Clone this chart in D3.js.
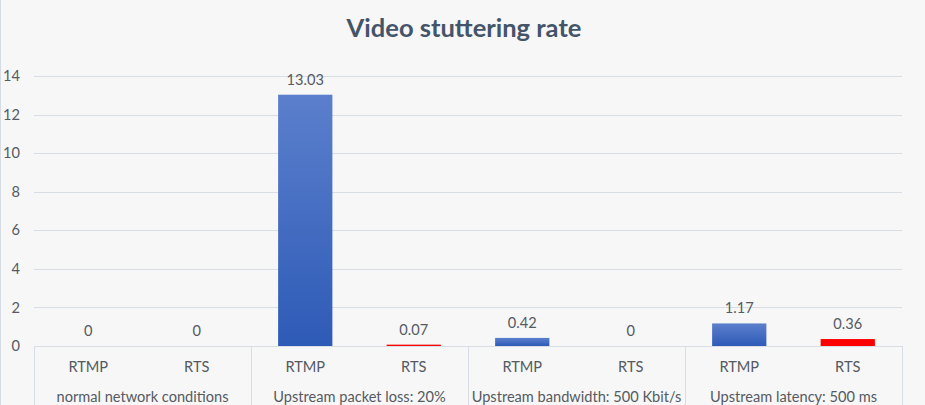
<!DOCTYPE html>
<html><head><meta charset="utf-8">
<script src="https://cdn.jsdelivr.net/npm/d3@7"></script>
<style>
html,body{margin:0;padding:0;background:#f7f7f7;}
svg{display:block;}
</style></head>
<body>
<svg id="chart" width="925" height="405"></svg>
<script>
const title = "Video stuttering rate";
const groups = ["normal network conditions", "Upstream packet loss: 20%", "Upstream bandwidth: 500 Kbit/s", "Upstream latency: 500 ms"];
const protocols = ["RTMP", "RTS"];
const rtmpValues = [0, 13.03, 0.42, 1.17];
const rtsValues = [0, 0.07, 0, 0.36];
const rtmpLabels = ["0", "13.03", "0.42", "1.17"];
const rtsLabels = ["0", "0.07", "0", "0.36"];
const yTicks = [0, 2, 4, 6, 8, 10, 12, 14];

(function () {
const rows = [];
groups.forEach((g, i) => {
  rows.push({group: g, proto: "RTMP", value: rtmpValues[i], label: rtmpLabels[i]});
  rows.push({group: g, proto: "RTS", value: rtsValues[i], label: rtsLabels[i]});
});

const svg = d3.select("#chart");
const W = 925, H = 405;
const mLeft = 34, mRight = 902, mTop = 76, mBottom = 346;
const font = "Lato, 'Open Sans', sans-serif";
const textColor = "#555a63";
const fs = 14.6;

svg.append("rect").attr("x", 0.5).attr("y", -1).attr("width", W + 2).attr("height", H + 2)
  .attr("fill", "#f7f7f7").attr("stroke", "#d6dbe4");

const defs = svg.append("defs");
const grad = defs.append("linearGradient").attr("id", "blueGrad").attr("x1", 0).attr("y1", 0).attr("x2", 0).attr("y2", 1);
grad.append("stop").attr("offset", "0%").attr("stop-color", "#5b7fcc");
grad.append("stop").attr("offset", "100%").attr("stop-color", "#2e5bb7");

const x0 = d3.scaleBand().domain(groups).range([mLeft, mRight]).paddingInner(0).paddingOuter(0);
const x1 = d3.scaleBand().domain(protocols).range([0, x0.bandwidth()]).paddingInner(0.5).paddingOuter(0.25);
const xs = d3.scaleBand().domain(protocols).range([0, x0.bandwidth()]);
const y = d3.scaleLinear().domain([0, 14]).range([mBottom, mTop]);

// gridlines
svg.append("g").selectAll("line").data(yTicks.filter(t => t > 0)).join("line")
  .attr("x1", mLeft).attr("x2", mRight)
  .attr("y1", d => Math.round(y(d)) + 0.5).attr("y2", d => Math.round(y(d)) + 0.5)
  .attr("stroke", "#d9dde5").attr("stroke-width", 1);

// y axis labels
const yAxis = d3.axisLeft(y).tickValues(yTicks).tickSize(0).tickPadding(0);
const yg = svg.append("g").attr("transform", `translate(20,0)`).call(yAxis);
yg.select(".domain").remove();
yg.selectAll("text").attr("font-family", font).attr("font-size", fs).attr("fill", textColor);

// bars
svg.append("g").selectAll("rect").data(rows).join("rect")
  .attr("x", d => x0(d.group) + x1(d.proto))
  .attr("width", x1.bandwidth())
  .attr("y", d => y(d.value))
  .attr("height", d => mBottom - y(d.value))
  .attr("fill", d => d.proto === "RTS" ? "#ff0000" : "url(#blueGrad)");

// category axis frame
svg.append("line").attr("x1", mLeft).attr("x2", mRight).attr("y1", mBottom + 0.5).attr("y2", mBottom + 0.5)
  .attr("stroke", "#d9dde5");
const seps = groups.map(g => x0(g)).concat([mRight]);
svg.append("g").selectAll("line").data(seps).join("line")
  .attr("x1", d => Math.round(d) + 0.5).attr("x2", d => Math.round(d) + 0.5)
  .attr("y1", mBottom).attr("y2", H)
  .attr("stroke", "#d9dde5");

// subcategory labels
svg.append("g").selectAll("text").data(rows).join("text")
  .attr("x", d => x0(d.group) + xs(d.proto) + xs.bandwidth() / 2)
  .attr("y", 372)
  .attr("text-anchor", "middle")
  .attr("font-family", font).attr("font-size", fs).attr("fill", textColor)
  .text(d => d.proto);

// group labels
svg.append("g").selectAll("text").data(groups).join("text")
  .attr("x", d => x0(d) + x0.bandwidth() / 2)
  .attr("y", 402)
  .attr("text-anchor", "middle")
  .attr("font-family", font).attr("font-size", fs).attr("fill", textColor)
  .text(d => d);

// data labels
svg.append("g").selectAll("text").data(rows).join("text")
  .attr("x", d => x0(d.group) + x1(d.proto) + x1.bandwidth() / 2)
  .attr("y", d => y(d.value) - 10)
  .attr("text-anchor", "middle")
  .attr("font-family", font).attr("font-size", fs).attr("fill", textColor)
  .text(d => d.label);

// title
svg.append("text").attr("x", 464).attr("y", 37).attr("text-anchor", "middle")
  .attr("font-family", font).attr("font-size", 25.5).attr("font-weight", "bold").attr("fill", "#44546a")
  .text(title);
})();
</script>
</body></html>
